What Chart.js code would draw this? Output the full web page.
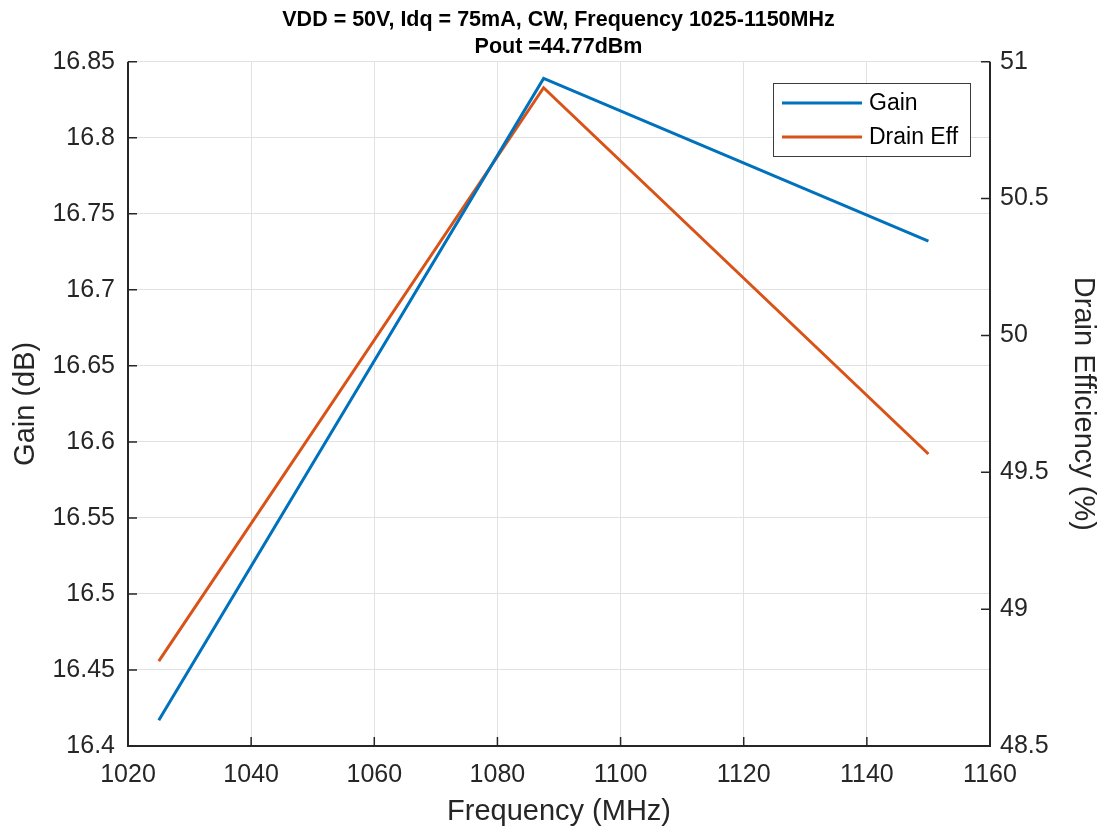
<!DOCTYPE html>
<html>
<head>
<meta charset="utf-8">
<script src="https://cdn.jsdelivr.net/npm/chart.js@4.4.1/dist/chart.umd.min.js"></script>
<style>
  html, body { margin: 0; padding: 0; background: #ffffff; }
  #wrap { width: 1104px; height: 831px; }
</style>
</head>
<body>
<div id="wrap"><canvas id="perfChart" width="1104" height="831"></canvas></div>
<script>
// values
const frequency = [1025, 1087.5, 1150];      // MHz
const gainDb = [16.417, 16.839, 16.732];     // dB
const drainEff = [48.81, 50.905, 49.567];    // %

const titleLines = ["VDD = 50V, Idq = 75mA, CW, Frequency 1025-1150MHz", "Pout =44.77dBm"];
const seriesNames = ["Gain", "Drain Eff"];
const xTicks = [1020, 1040, 1060, 1080, 1100, 1120, 1140, 1160];
const gainTicks = [16.4, 16.45, 16.5, 16.55, 16.6, 16.65, 16.7, 16.75, 16.8, 16.85];
const effTicks = [48.5, 49, 49.5, 50, 50.5, 51];

const blue = "#0072BD";
const orange = "#D95319";
const axisColor = "#262626";
const gridColor = "#e1e1e1";
const fontFamily = "Arial, 'Liberation Sans', Helvetica, sans-serif";
const tickFont = { family: fontFamily, size: 25 };
const labelFont = { family: fontFamily, size: 29 };

// MATLAB-like axes: black lines on left/right/bottom with inward ticks, legend box inside
const matlabAxes = {
  id: "matlabAxes",
  afterDatasetsDraw(chart) {
    const { ctx, chartArea: a, scales } = chart;
    ctx.save();
    ctx.strokeStyle = axisColor;
    ctx.lineWidth = 2;
    ctx.beginPath();
    ctx.moveTo(a.left, a.top); ctx.lineTo(a.left, a.bottom); ctx.lineTo(a.right, a.bottom); ctx.lineTo(a.right, a.top);
    ctx.stroke();
    ctx.lineWidth = 1.5;
    ctx.beginPath();
    xTicks.forEach(v => {
      const px = scales.x.getPixelForValue(v);
      ctx.moveTo(px, a.bottom); ctx.lineTo(px, a.bottom - 9);
    });
    gainTicks.forEach(v => {
      const py = scales.y.getPixelForValue(v);
      ctx.moveTo(a.left, py); ctx.lineTo(a.left + 9, py);
    });
    effTicks.forEach(v => {
      const py = scales.y1.getPixelForValue(v);
      ctx.moveTo(a.right, py); ctx.lineTo(a.right - 9, py);
    });
    ctx.stroke();

    // legend
    const bx = 773, by = 83, bw = 197, bh = 73;
    ctx.fillStyle = "#ffffff";
    ctx.fillRect(bx, by, bw, bh);
    ctx.strokeStyle = "#3c3c3c";
    ctx.lineWidth = 1;
    ctx.strokeRect(bx + 0.5, by + 0.5, bw, bh);
    ctx.font = "23px " + fontFamily;
    ctx.textBaseline = "middle";
    chart.data.datasets.forEach((ds, i) => {
      const ly = by + 20 + i * 34;
      ctx.strokeStyle = ds.borderColor;
      ctx.lineWidth = 3;
      ctx.beginPath(); ctx.moveTo(bx + 9, ly); ctx.lineTo(bx + 89, ly); ctx.stroke();
      ctx.fillStyle = "#000000";
      ctx.fillText(ds.label, bx + 96, ly + 1);
    });
    ctx.restore();
  }
};

new Chart(document.getElementById("perfChart"), {
  type: "line",
  data: {
    datasets: [
      {
        label: seriesNames[0],
        data: frequency.map((f, i) => ({ x: f, y: gainDb[i] })),
        borderColor: blue,
        borderWidth: 3,
        pointRadius: 0,
        tension: 0,
        yAxisID: "y"
      },
      {
        label: seriesNames[1],
        data: frequency.map((f, i) => ({ x: f, y: drainEff[i] })),
        borderColor: orange,
        borderWidth: 3,
        pointRadius: 0,
        tension: 0,
        yAxisID: "y1"
      }
    ]
  },
  options: {
    responsive: false,
    animation: false,
    // left padding keeps the title centred over the plot area
    layout: { padding: { left: 13, top: 0, right: 0, bottom: 0 } },
    plugins: {
      legend: { display: false },
      tooltip: { enabled: false },
      title: {
        display: true,
        text: titleLines,
        color: "#000000",
        font: { family: fontFamily, size: 21.5, weight: "bold", lineHeight: 1.25 },
        padding: { top: 7, bottom: 1 }
      }
    },
    scales: {
      x: {
        type: "linear",
        min: 1020,
        max: 1160,
        afterBuildTicks: s => { s.ticks = xTicks.map(v => ({ value: v })); },
        ticks: { color: axisColor, font: tickFont, padding: 14, maxRotation: 0, callback: v => String(v) },
        grid: { color: gridColor, drawTicks: false },
        border: { display: false },
        title: { display: true, text: "Frequency (MHz)", color: axisColor, font: labelFont, padding: { bottom: 2 } },
        afterFit: s => { s.height = 85; }
      },
      y: {
        type: "linear",
        position: "left",
        min: 16.4,
        max: 16.85,
        afterBuildTicks: s => { s.ticks = gainTicks.map(v => ({ value: v })); },
        ticks: { color: axisColor, font: tickFont, padding: 13, callback: v => String(+v.toFixed(2)) },
        grid: { color: gridColor, drawTicks: false },
        border: { display: false },
        title: { display: true, text: "Gain (dB)", color: axisColor, font: { family: fontFamily, size: 29, lineHeight: 0.9 }, padding: { top: 0 } },
        afterFit: s => { s.width = 115; }
      },
      y1: {
        type: "linear",
        position: "right",
        min: 48.5,
        max: 51,
        afterBuildTicks: s => { s.ticks = effTicks.map(v => ({ value: v })); },
        ticks: { color: axisColor, font: tickFont, padding: 10, callback: v => String(+v.toFixed(1)) },
        grid: { display: false, drawTicks: false },
        border: { display: false },
        title: { display: true, text: "Drain Efficiency (%)", color: axisColor, font: labelFont, padding: { top: 4 } },
        afterFit: s => { s.width = 114; }
      }
    }
  },
  plugins: [matlabAxes]
});
</script>
</body>
</html>
